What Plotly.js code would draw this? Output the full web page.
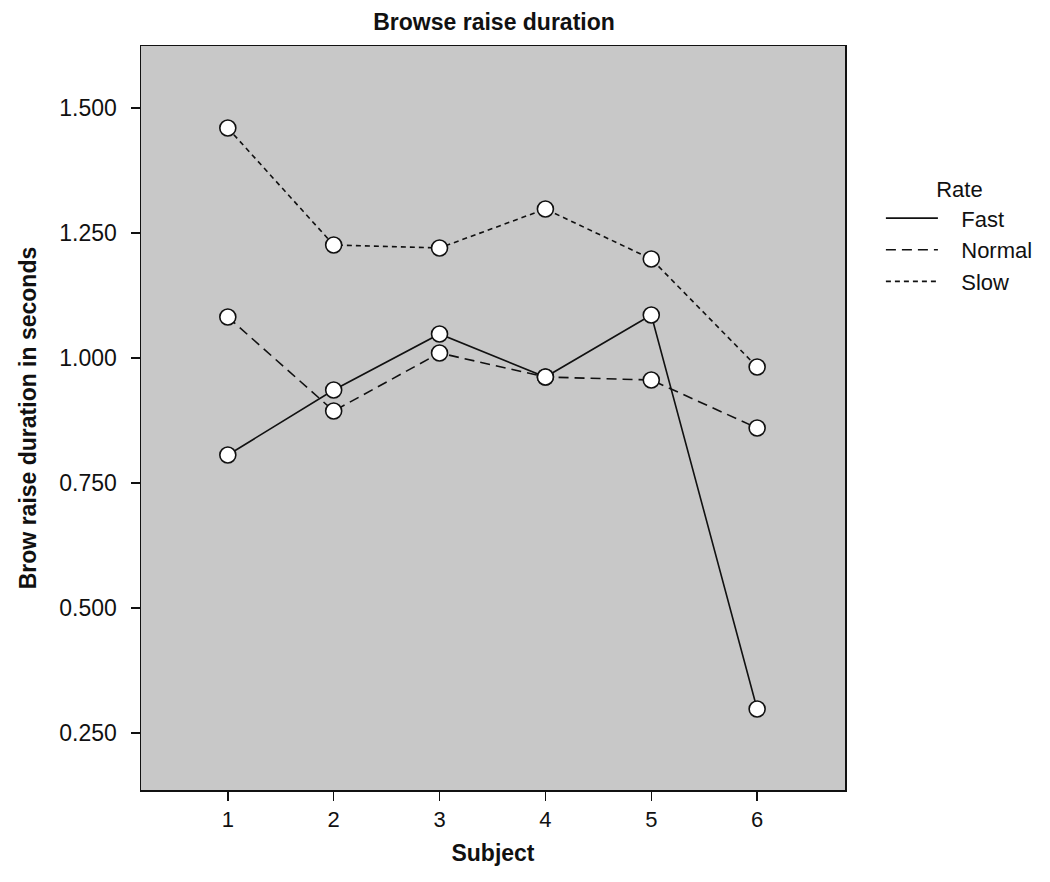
<!DOCTYPE html>
<html>
<head>
<meta charset="utf-8">
<script src="https://cdn.plot.ly/plotly-3.0.1.min.js"></script>
<style>body{margin:0;background:#fff;} #chart{width:1050px;height:882px;}</style>
</head>
<body>
<div id="chart"></div>
<script>
const subjects = [1, 2, 3, 4, 5, 6];
const fast = [0.806, 0.936, 1.048, 0.962, 1.086, 0.298];
const normal = [1.082, 0.894, 1.010, 0.962, 0.956, 0.860];
const slow = [1.460, 1.226, 1.220, 1.298, 1.198, 0.982];
const seriesNames = ['Fast', 'Normal', 'Slow'];
const yTicks = [0.25, 0.5, 0.75, 1.0, 1.25, 1.5];

const seriesData = [fast, normal, slow];
const dashes = ['solid', '10px,6px', '5px,4px'];
const pad = '\u00a0\u00a0\u00a0';
const traces = [];
seriesData.forEach((vals, i) => {
  traces.push({
    x: subjects, y: vals, type: 'scatter', mode: 'lines', name: pad + seriesNames[i],
    line: {color: '#111', width: 1.6, dash: dashes[i]}, showlegend: true
  });
});
seriesData.forEach((vals, i) => {
  traces.push({
    x: subjects, y: vals, type: 'scatter', mode: 'markers', name: seriesNames[i],
    marker: {size: 16, color: '#fff', line: {color: '#111', width: 1.6}},
    showlegend: false, hoverinfo: 'skip'
  });
});

const layout = {
  width: 1050, height: 882,
  margin: {l: 141, r: 203, t: 46, b: 92},
  paper_bgcolor: '#fff', plot_bgcolor: '#c8c8c8',
  font: {family: 'Liberation Sans, Arial, sans-serif', color: '#111', size: 22},
  title: {text: '<b>Browse raise duration</b>', x: 0.4705, xanchor: 'center', y: 0.975, yanchor: 'middle', font: {size: 23}},
  xaxis: {
    range: [0.18, 6.83], tickvals: subjects, ticktext: subjects.map(String),
    ticks: 'outside', ticklen: 9, tickwidth: 1.5, tickcolor: '#111', tickfont: {size: 22},
    showgrid: false, zeroline: false, showline: true, linecolor: '#111', linewidth: 1.5, mirror: true,
    title: {text: '<b>Subject</b>', font: {size: 23}, standoff: 14}
  },
  yaxis: {
    range: [0.136, 1.624], tickvals: yTicks, ticktext: yTicks.map(v => v.toFixed(3)),
    ticks: 'outside', ticklen: 9, tickwidth: 1.5, tickcolor: '#111', tickfont: {size: 23},
    ticklabelstandoff: 9,
    showgrid: false, zeroline: false, showline: true, linecolor: '#111', linewidth: 1.5, mirror: true,
    title: {text: '<b>Brow raise duration in seconds</b>', font: {size: 23}, standoff: 16}
  },
  legend: {
    x: 1.051, xanchor: 'left', y: 0.835, yanchor: 'top',
    title: {text: 'Rate', side: 'top center', font: {size: 22}},
    font: {size: 22}, bgcolor: 'rgba(0,0,0,0)', tracegroupgap: 0, itemwidth: 52
  },
  showlegend: true
};

Plotly.newPlot('chart', traces, layout, {displayModeBar: false, staticPlot: true});
</script>
</body>
</html>
